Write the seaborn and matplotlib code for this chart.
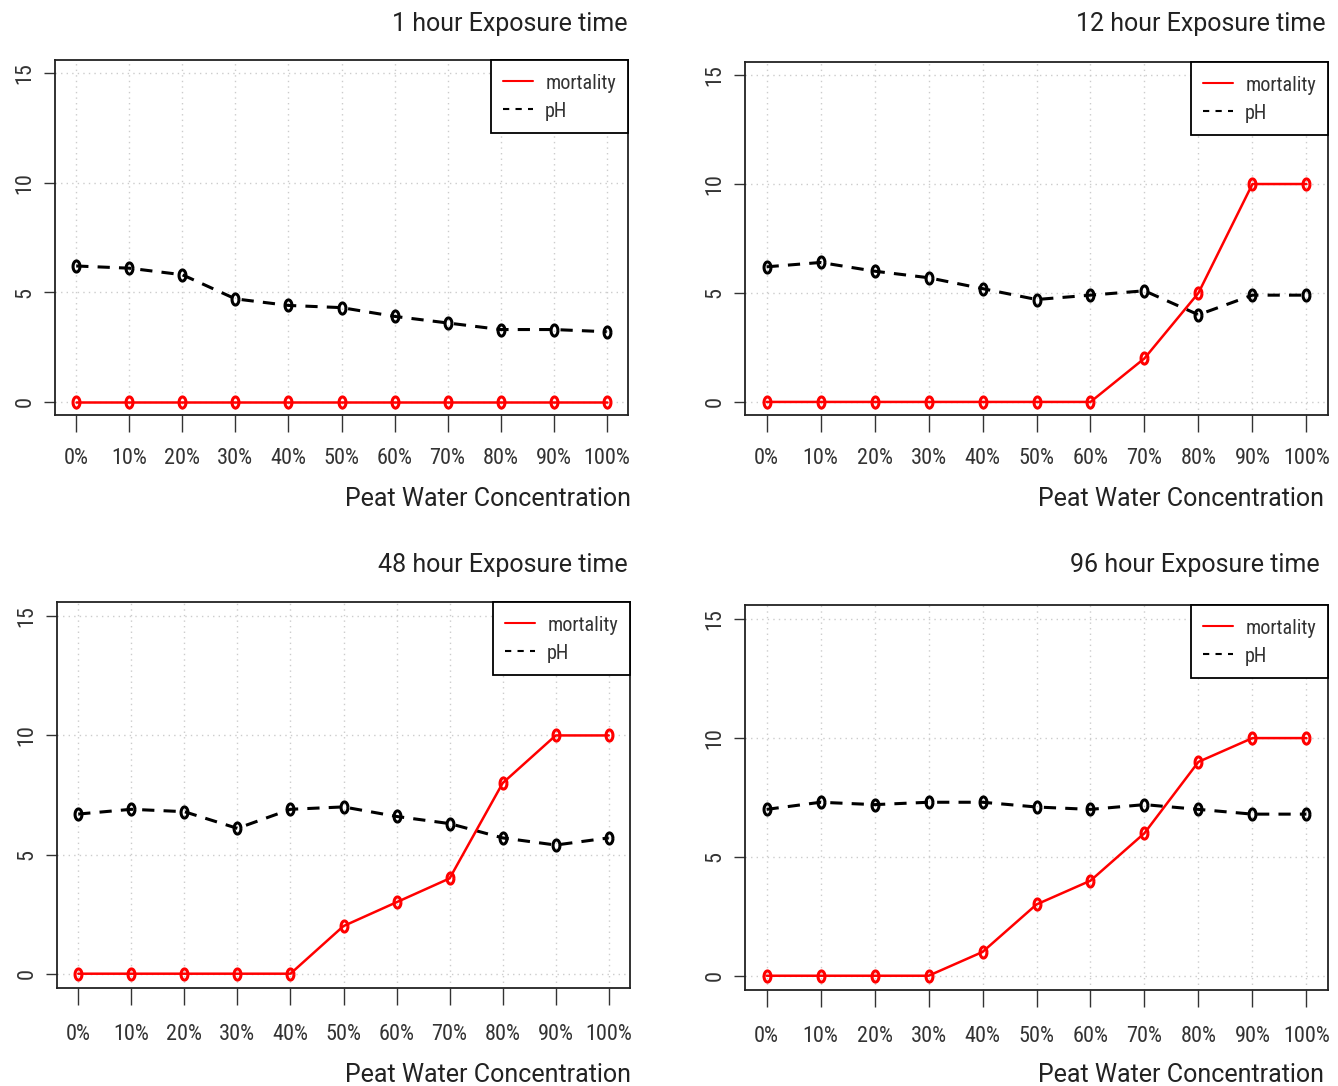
import matplotlib
matplotlib.use("Agg")
import matplotlib.pyplot as plt
from matplotlib import font_manager
from matplotlib.lines import Line2D
from matplotlib.path import Path
import numpy as np
import pandas as pd
import seaborn as sns

# ---------------- data ----------------
concentrations = ["0%", "10%", "20%", "30%", "40%", "50%", "60%", "70%", "80%", "90%", "100%"]
titles = ["1 hour Exposure time", "12 hour Exposure time",
          "48 hour Exposure time", "96 hour Exposure time"]

mortality_1h = [0, 0, 0, 0, 0, 0, 0, 0, 0, 0, 0]
ph_1h = [6.2, 6.1, 5.8, 4.7, 4.4, 4.3, 3.9, 3.6, 3.3, 3.3, 3.2]

mortality_12h = [0, 0, 0, 0, 0, 0, 0, 2, 5, 10, 10]
ph_12h = [6.2, 6.4, 6.0, 5.7, 5.2, 4.7, 4.9, 5.1, 4.0, 4.9, 4.9]

mortality_48h = [0, 0, 0, 0, 0, 2, 3, 4, 8, 10, 10]
ph_48h = [6.7, 6.9, 6.8, 6.1, 6.9, 7.0, 6.6, 6.3, 5.7, 5.4, 5.7]

mortality_96h = [0, 0, 0, 0, 1, 3, 4, 6, 9, 10, 10]
ph_96h = [7.0, 7.3, 7.2, 7.3, 7.3, 7.1, 7.0, 7.2, 7.0, 6.8, 6.8]

y_ticks = [0, 5, 10, 15]
xlabel = "Peat Water Concentration"

# ---------------- style ----------------
sns.set_style("white", {"xtick.bottom": True, "ytick.left": True})

available = {f.name for f in font_manager.fontManager.ttflist}
def pick(names, default="DejaVu Sans"):
    for n in names:
        if n in available:
            return n
    return default

narrow = pick(["Liberation Sans Narrow", "Roboto Condensed", "DejaVu Sans Condensed"])
narrow_stretch = "condensed" if narrow == "DejaVu Sans" else "normal"
title_font = pick(["Roboto", "Open Sans", "Lato"])

plt.rcParams["font.family"] = [title_font, "DejaVu Sans"]

W, H = 1338, 1086
fig = plt.figure(figsize=(W / 100, H / 100), dpi=100)

# panel boxes in pixels: left, top, right, bottom
boxes = [(55, 60, 628, 415), (745, 62, 1328, 415),
         (57, 602, 630, 988), (745, 605, 1328, 990)]
title_pos = [(628, 24), (1325, 24), (628, 565), (1320, 565)]
xlabel_pos = [(631, 499), (1324, 499), (631, 1075), (1324, 1075)]
xtick_pad = [12, 12, 14, 14]

series = [(mortality_1h, ph_1h), (mortality_12h, ph_12h),
          (mortality_48h, ph_48h), (mortality_96h, ph_96h)]

# narrow ellipse marker like R's "o" glyph
t = np.linspace(0, 2 * np.pi, 40)
ell = Path(np.column_stack([0.62 * np.cos(t), np.sin(t)]))

for i, (box, (mort, ph)) in enumerate(zip(boxes, series)):
    l, tp, r, b = box
    ax = fig.add_axes([l / W, 1 - b / H, (r - l) / W, (b - tp) / H])
    df = pd.DataFrame({"x": np.arange(len(concentrations)),
                       "mortality": mort, "pH": ph})
    sns.lineplot(data=df, x="x", y="pH", ax=ax, color="black", linestyle=(0, (4, 3)),
                 linewidth=2.2, marker=ell, markersize=8, markerfacecolor="none",
                 markeredgecolor="black", markeredgewidth=2.2)
    sns.lineplot(data=df, x="x", y="mortality", ax=ax, color="red", linestyle="-",
                 linewidth=1.8, marker=ell, markersize=8, markerfacecolor="none",
                 markeredgecolor="red", markeredgewidth=2.2)
    ax.set_xlim(-0.4, 10.4)
    ax.set_ylim(-0.6, 15.6)
    ax.set_xticks(np.arange(len(concentrations)))
    ax.set_xticklabels(concentrations, fontfamily=narrow, fontstretch=narrow_stretch,
                       fontsize=16, color="#333333")
    ax.set_yticks(y_ticks)
    ax.set_yticklabels([str(v) for v in y_ticks], rotation=90, va="center",
                       fontfamily=narrow, fontstretch=narrow_stretch,
                       fontsize=16, color="#333333")
    ax.tick_params(axis="x", bottom=True, direction="out", length=12, width=1,
                   pad=xtick_pad[i], color="#333333")
    ax.tick_params(axis="y", left=True, direction="out", length=8, width=1,
                   pad=6, color="#333333")
    ax.set_xlabel("")
    ax.set_ylabel("")
    ax.grid(True, color="#cccccc", linestyle=(0, (1, 3)), linewidth=1)
    for s in ax.spines.values():
        s.set_color("#222222")
        s.set_linewidth(1.3)
    handles = [Line2D([], [], color="red", lw=1.5, linestyle="-"),
               Line2D([], [], color="black", lw=1.5, linestyle=(0, (3, 3)))]
    leg = ax.legend(handles, ["mortality", "pH"], loc="upper right",
                    bbox_to_anchor=(1, 1), borderaxespad=0, fancybox=False,
                    framealpha=1, edgecolor="black", handlelength=1.5,
                    handleheight=1.2, borderpad=0.6, labelspacing=0.35,
                    handletextpad=0.6,
                    prop={"family": narrow, "stretch": narrow_stretch, "size": 14.5})
    leg.get_frame().set_linewidth(1.3)
    for txt in leg.get_texts():
        txt.set_color("#333333")

    tx, ty = title_pos[i]
    fig.text(tx / W, 1 - ty / H, titles[i], ha="right", va="center",
             fontsize=18, color="#222222")
    lx, ly = xlabel_pos[i]
    fig.text(lx / W, 1 - ly / H, xlabel, ha="right", va="center",
             fontsize=18, color="#222222")

fig.savefig("out.png", dpi=100, facecolor="white")
